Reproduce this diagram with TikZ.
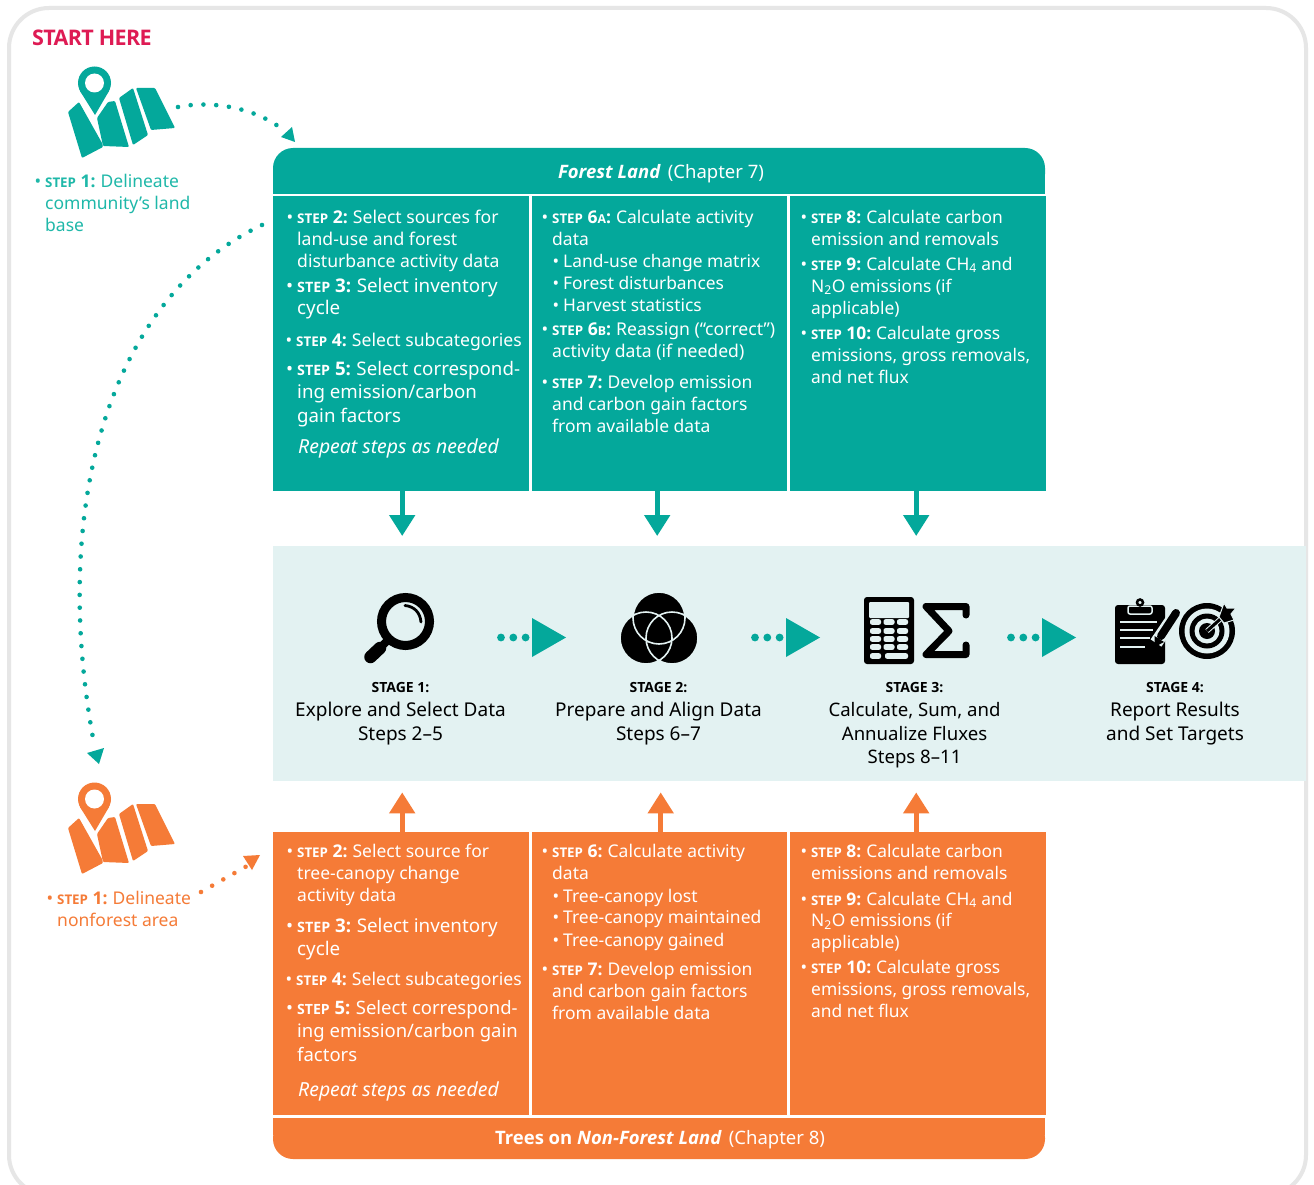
\documentclass[tikz,border=0pt]{standalone}
\usepackage{fontspec}
\usepackage{graphicx}
\setmainfont{Noto Sans}[BoldFont={Open Sans Bold},BoldItalicFont={Open Sans Bold Italic}]
\usetikzlibrary{arrows.meta}
\definecolor{teal}{HTML}{04A89B}
\definecolor{tealtxt}{HTML}{1FB8A9}
\definecolor{orng}{HTML}{F57B37}
\definecolor{bandc}{HTML}{E3F2F2}
\definecolor{framec}{HTML}{E6E6E6}
\definecolor{startc}{HTML}{DE1B54}
\newcommand\stp[1]{\textbf{\scalebox{.76}{STEP} #1}\hspace{-1pt}}
\newcommand\sca{\scalebox{.7}{A}}
\newcommand\scb{\scalebox{.7}{B}}
% name, x, baseline y, size, leading, colour, lines
\newcommand\mylines[7]{\node[textline,text=#6] (#1) at (#2,#3) {\fontsize{#4}{#5}\selectfont\def\arraystretch{1}\begin{tabular}[t]{@{}l@{}}\makebox[0pt][r]{•\hspace{4pt}}\ignorespaces #7\end{tabular}};}
\newcommand\myplain[7]{\node[textline,text=#6] (#1) at (#2,#3) {\fontsize{#4}{#5}\selectfont\def\arraystretch{1}\begin{tabular}[t]{@{}l@{}}#7\end{tabular}};}
\newcommand\mapicon[2]{%
 \begin{scope}[shift={(0,#2)}]
  \fill[#1,rounded corners=1pt] (68,112)--(79,102)--(102,143)--(103,147)--(82,158)--cycle;
  \fill[#1,rounded corners=1pt] (97,118)--(108,102)--(115,101)--(129,147)--(103,146)--cycle;
  \fill[#1,rounded corners=1pt] (119,98)--(133,88)--(148,135)--(133,145)--cycle;
  \fill[#1,rounded corners=1pt] (136,88)--(155,88)--(175,128)--(151,130)--cycle;
  \fill[#1] (94.5,83) circle[radius=16.5];
  \fill[#1] (95,115)--(80,91)--(109,91)--cycle;
  \fill[white] (94.5,83) circle[radius=9.5];
 \end{scope}}
\tikzset{
 x=1pt,y=-1pt,
 textline/.style={anchor=base west,inner sep=0pt},
 panelt/.style={fill=teal,inner sep=0pt,anchor=north west},
 panelo/.style={fill=orng,inner sep=0pt,anchor=north west},
 stagetxt/.style={align=center,anchor=north,inner sep=0pt,font=\fontsize{19}{23.5}\selectfont},
 dots/.style={line width=4.6pt,line cap=round,dash pattern=on 0pt off 12.8pt},
 bigarrow/.style={line width=5pt,-{Triangle[length=21pt,width=25pt]}},
 bgline/.style={draw=bandc,line width=1.6pt}
}
\begin{document}
\begin{tikzpicture}
\useasboundingbox (0,0) rectangle (1314,1185);
\clip (0,0) rectangle (1314,1185);
\fill[white] (0,0) rectangle (1314,1185);
\draw[framec,line width=4pt,rounded corners=40pt] (9,1195) rectangle (1306,8);
% band
\node[fill=bandc,inner sep=0pt,minimum width=1033pt,minimum height=235pt,anchor=north west] (band) at (273,546) {};
% forest panels
\fill[teal,rounded corners=20pt] (273,194) -- (273,148) -- (1045,148) -- (1045,194) -- cycle;
\fill[teal] (273,175) rectangle (1045,194);
\node[inner sep=0pt,text=white,font=\fontsize{18.5}{23}\selectfont] (fhead) at (661,174) {\textit{\textbf{Forest Land}}\hspace{7pt}(Chapter 7)};
\node[panelt,minimum width=256pt,minimum height=295pt] (f1) at (273,196) {};
\node[panelt,minimum width=255pt,minimum height=295pt] (f2) at (532,196) {};
\node[panelt,minimum width=256pt,minimum height=295pt] (f3) at (790,196) {};
% orange panels
\node[panelo,minimum width=256pt,minimum height=283pt] (o1) at (273,832) {};
\node[panelo,minimum width=255pt,minimum height=283pt] (o2) at (532,832) {};
\node[panelo,minimum width=256pt,minimum height=283pt] (o3) at (790,832) {};
\fill[orng,rounded corners=20pt] (273,1118) -- (273,1159) -- (1045,1159) -- (1045,1118) -- cycle;
\fill[orng] (273,1118) rectangle (1045,1135);
\node[inner sep=0pt,text=white,font=\fontsize{18.5}{23}\selectfont] (ohead) at (660,1140) {\textbf{Trees on \textit{Non-Forest Land}}\hspace{7pt}(Chapter 8)};
% connectors panels -> band
\draw[teal,bigarrow,shorten >=10pt] ([xshift=1pt]f1.south) -- ([xshift=1pt]f1.south |- band.north);
\draw[teal,bigarrow,shorten >=10pt] ([xshift=-2.5pt]f2.south) -- ([xshift=-2.5pt]f2.south |- band.north);
\draw[teal,bigarrow,shorten >=10pt] ([xshift=-2pt]f3.south) -- ([xshift=-2pt]f3.south |- band.north);
\draw[orng,bigarrow,shorten >=11pt] ([xshift=1pt]o1.north) -- ([xshift=1pt]o1.north |- band.south);
\draw[orng,bigarrow,shorten >=11pt] ([xshift=1pt]o2.north) -- ([xshift=1pt]o2.north |- band.south);
\draw[orng,bigarrow,shorten >=11pt] ([xshift=-2pt]o3.north) -- ([xshift=-2pt]o3.north |- band.south);
% start
\node[anchor=base west,inner sep=0pt,text=startc,font=\fontsize{21.5}{24}\selectfont\bfseries] (start) at (32,45.5) {\addfontfeature{LetterSpace=-3}START HERE};
\mapicon{teal}{0}
\mapicon{orng}{716}
\mylines{t1}{45}{188}{17.5}{22}{tealtxt}{\stp{1:} Delineate\\community's land\\base}
\mylines{t2}{57}{904}{17.5}{22}{orng}{\stp{1:} Delineate\\nonforest area}
% dotted curved connectors
\coordinate (d1a) at (178,107); \coordinate (d1b) at (282,129);
\draw[teal,dots] (d1a) .. controls (212,100) and (255,108) .. (d1b);
\fill[teal] (295,142)--(281,137)--(292,127)--cycle;
\coordinate (d2a) at (262,225); \coordinate (d2b) at (93,738);
\draw[teal,dots] (d2a) .. controls (112,296) and (50,500) .. (d2b);
\fill[teal] (99,764)--(87,753)--(104,748)--cycle;
\coordinate (d3a) at (201,892); \coordinate (d3b) at (247,866);
\draw[orng,dots] (d3a) -- (d3b);
\fill[orng] (260,855)--(243,856)--(252,870)--cycle;
% Forest col 1
\mylines{a2}{297}{223}{17.6}{22}{white}{\stp{2:} Select sources for\\land-use and forest\\disturbance activity data}
\mylines{a3}{297}{292}{18.8}{22.5}{white}{\stp{3:} Select inventory\\cycle}
\mylines{a4}{296}{346}{17.6}{22}{white}{\stp{4:} Select subcategories}
\mylines{a5}{297}{375}{18.7}{23.5}{white}{\stp{5:} Select correspond-\\ing emission/carbon\\gain factors}
\myplain{a6}{298}{453}{19.4}{22}{white}{\textit{Repeat steps as needed}}
% Forest col 2
\mylines{b6}{552}{223}{17.5}{22}{white}{\stp{6\sca:} Calculate activity\\data}
\mylines{b61}{563}{267}{17.4}{22}{white}{Land-use change matrix}
\mylines{b62}{563}{289}{17.4}{22}{white}{Forest disturbances}
\mylines{b63}{563}{311}{17.4}{22}{white}{Harvest statistics}
\mylines{b6b}{552}{335}{17.6}{22}{white}{\stp{6\scb:} Reassign (“correct”)\\activity data (if needed)}
\mylines{b7}{552}{388}{17.5}{22}{white}{\stp{7:} Develop emission\\and carbon gain factors\\from available data}
% Forest col 3
\mylines{c8}{811}{223}{17.4}{22}{white}{\stp{8:} Calculate carbon\\emission and removals}
\mylines{c9}{811}{270}{17.4}{22}{white}{\stp{9:} Calculate CH\textsubscript{4} and\\N\textsubscript{2}O emissions (if\\applicable)}
\mylines{c10}{811}{339}{17.4}{22}{white}{\stp{10:} Calculate gross\\emissions, gross removals,\\and net flux}
% Orange col 1
\mylines{d2}{297}{857}{17.5}{22.3}{white}{\stp{2:} Select source for\\tree-canopy change\\activity data}
\mylines{d3}{297}{932}{18.8}{23}{white}{\stp{3:} Select inventory\\cycle}
\mylines{d4}{296}{985}{17.6}{22}{white}{\stp{4:} Select subcategories}
\mylines{d5}{297}{1014}{18.5}{23.5}{white}{\stp{5:} Select correspond-\\ing emission/carbon gain\\factors}
\myplain{d6}{298}{1096}{19.4}{22}{white}{\textit{Repeat steps as needed}}
% Orange col 2
\mylines{e6}{552}{857}{17.5}{22}{white}{\stp{6:} Calculate activity\\data}
\mylines{e61}{563}{902}{17.5}{22}{white}{Tree-canopy lost}
\mylines{e62}{563}{923}{17.5}{22}{white}{Tree-canopy maintained}
\mylines{e63}{563}{946}{17.5}{22}{white}{Tree-canopy gained}
\mylines{e7}{552}{975}{17.5}{22}{white}{\stp{7:} Develop emission\\and carbon gain factors\\from available data}
% Orange col 3
\mylines{g8}{811}{857}{17.4}{22}{white}{\stp{8:} Calculate carbon\\emissions and removals}
\mylines{g9}{811}{905}{17.4}{21.5}{white}{\stp{9:} Calculate CH\textsubscript{4} and\\N\textsubscript{2}O emissions (if\\applicable)}
\mylines{g10}{811}{973}{17.4}{22}{white}{\stp{10:} Calculate gross\\emissions, gross removals,\\and net flux}
% stage text
\node[stagetxt] (s1) at (400.5,682) {{\fontsize{14}{17}\selectfont\bfseries STAGE 1:}\\[1pt]Explore and Select Data\\[0pt]Steps 2–5};
\node[stagetxt] (s2) at (658.5,682) {{\fontsize{14}{17}\selectfont\bfseries STAGE 2:}\\[1pt]Prepare and Align Data\\[0pt]Steps 6–7};
\node[stagetxt] (s3) at (914.5,682) {{\fontsize{14}{17}\selectfont\bfseries STAGE 3:}\\[1pt]\fontsize{18.6}{23.5}\selectfont Calculate, Sum, and\\\fontsize{18.6}{23.5}\selectfont Annualize Fluxes\\[0pt]\fontsize{18.6}{23.5}\selectfont Steps 8–11};
\node[stagetxt] (s4) at (1175,682) {{\fontsize{14}{17}\selectfont\bfseries STAGE 4:}\\[1pt]Report Results\\and Set Targets};
% stage dotted arrows
\foreach \n/\x in {1/501,2/755,3/1011}{
 \fill[teal] (\x,637.5) circle[radius=3.9pt] (\x+12.3,637.5) circle[radius=3.9pt] (\x+24.6,637.5) circle[radius=3.9pt];
 \fill[teal] (\x+31,618) -- (\x+31,657) -- (\x+65,637.5) -- cycle;
}
% magnifier
\draw[black,line width=9pt] (405.5,621.5) circle[radius=24];
\draw[black,line width=12.5pt,line cap=round] (380,648) -- (370.5,657);
\draw[black,line width=8pt] (390,638) -- (378,650);
\draw[black,line width=2.8pt,line cap=round] (405,605.5) .. controls (414,606.5) and (420,612) .. (421,622);
% venn
\fill[black] (659,618) circle[radius=26] (646,638) circle[radius=26] (672,638) circle[radius=26];
\draw[bgline] (659,618) circle[radius=26] (646,638) circle[radius=26] (672,638) circle[radius=26];
% calculator
\fill[black,rounded corners=3pt] (864,597) rectangle (914,664);
\fill[bandc,rounded corners=1pt] (869,602) rectangle (909,618);
\foreach \y in {622,631,639,647}{\foreach \x in {875.5,889,902.5}{\fill[bandc,rounded corners=2pt] (\x-5.5,\y-2.8) rectangle (\x+5.5,\y+2.8);}}
\fill[bandc,rounded corners=2pt] (870,653.2) rectangle (881,658.8);
\fill[bandc,rounded corners=2pt] (885,653.2) rectangle (908,658.8);
% sigma
\draw[black,line width=7pt,line join=round,line cap=round] (966,615) -- (966,606.5) -- (926,606.5) -- (949,631) -- (926,654.5) -- (966,654.5) -- (966,645);
% clipboard
\fill[black,rounded corners=3pt] (1115,605) rectangle (1165,664);
\draw[bandc,line width=1.5pt,fill=black,rounded corners=2pt] (1128,606) -- (1128,614) -- (1152,614) -- (1152,606) -- cycle;
\draw[black,line width=2.5pt] (1140,602.5) circle[radius=3];
\foreach \y/\e in {622/1157,630/1153,638/1150,647/1145}{\fill[bandc] (1120,\y-1.3) rectangle (\e,\y+1.3);}
\draw[bandc,line width=13pt] (1177,612) -- (1156,643);
\draw[black,line width=8pt,line cap=round] (1176,613) -- (1161,636);
\fill[black] (1154.5,647) -- (1154.5,636) -- (1164,642) -- cycle;
% target
\fill[black] (1207,631) circle[radius=28];
\fill[bandc] (1207,631) circle[radius=22.5];
\fill[black] (1207,631) circle[radius=17.5];
\fill[bandc] (1207,631) circle[radius=12.5];
\fill[black] (1207,631) circle[radius=8];
\draw[bandc,line width=5pt] (1207,631) -- (1226,614);
\draw[black,line width=3pt] (1207,631) -- (1226,614);
\draw[bandc,line width=1pt,fill=black] (1219,617) -- (1224,603) -- (1227,608) -- (1236,608) -- (1231,614) -- (1234,620) -- (1224,623) -- cycle;
\end{tikzpicture}
\end{document}
